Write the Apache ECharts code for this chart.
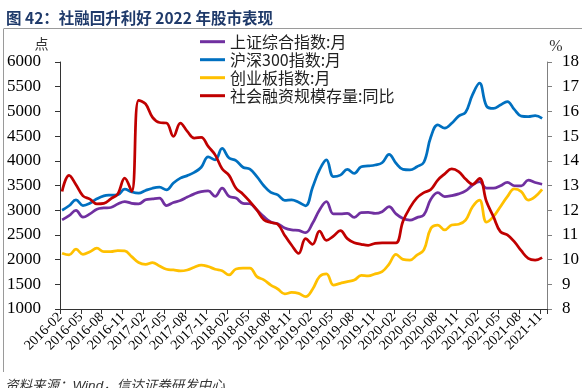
<!DOCTYPE html>
<html><head><meta charset="utf-8">
<script src="https://cdn.jsdelivr.net/npm/echarts@6/dist/echarts.min.js"></script>
<style>html,body{margin:0;padding:0;background:#fff;}#c{width:582px;height:388px;}</style>
</head><body><div id="c"></div>
<script>
// ---- data ----
const months = [
 '2016-02','2016-03','2016-04','2016-05','2016-06','2016-07','2016-08','2016-09','2016-10','2016-11','2016-12',
 '2017-01','2017-02','2017-03','2017-04','2017-05','2017-06','2017-07','2017-08','2017-09','2017-10','2017-11','2017-12',
 '2018-01','2018-02','2018-03','2018-04','2018-05','2018-06','2018-07','2018-08','2018-09','2018-10','2018-11','2018-12',
 '2019-01','2019-02','2019-03','2019-04','2019-05','2019-06','2019-07','2019-08','2019-09','2019-10','2019-11','2019-12',
 '2020-01','2020-02','2020-03','2020-04','2020-05','2020-06','2020-07','2020-08','2020-09','2020-10','2020-11','2020-12',
 '2021-01','2021-02','2021-03','2021-04','2021-05','2021-06','2021-07','2021-08','2021-09','2021-10','2021-11'
];
const seriesNames = ['上证综合指数:月','沪深300指数:月','创业板指数:月','社会融资规模存量:同比'];
const shComposite = [2805,2890,2995,2860,2925,3020,3045,3055,3125,3175,3140,3130,3210,3230,3245,3095,3155,3195,3265,3330,3375,3390,3280,3445,3280,3245,3140,3130,3005,2870,2760,2725,2640,2600,2590,2545,2735,3005,3175,2925,2925,2935,2855,2950,2955,2935,2970,3070,2925,2830,2800,2850,2905,3220,3355,3275,3295,3330,3390,3510,3580,3445,3445,3495,3565,3495,3490,3610,3560,3525];
const csi300 = [3000,3090,3210,3095,3140,3230,3290,3305,3310,3425,3370,3345,3400,3445,3465,3410,3550,3650,3700,3765,3870,4080,4020,4250,4055,4005,3870,3830,3680,3495,3360,3310,3200,3210,3160,3090,3460,3815,4020,3680,3710,3825,3745,3880,3895,3915,3960,4130,3950,3825,3815,3880,3970,4480,4725,4660,4760,4905,4985,5340,5570,5110,5060,5130,5200,5040,4905,4895,4915,4860];
const chinext = [2130,2095,2210,2105,2160,2230,2160,2160,2180,2175,2060,1940,1905,1940,1870,1805,1790,1770,1790,1845,1890,1860,1805,1775,1690,1810,1825,1825,1655,1590,1485,1405,1305,1335,1315,1250,1400,1655,1710,1485,1520,1555,1585,1680,1670,1710,1755,1910,2105,2005,1990,2090,2195,2630,2700,2600,2700,2715,2800,3070,3205,2760,2870,3070,3275,3430,3375,3205,3275,3420];
const tsfYoY = [12.76,13.41,13.03,12.58,12.45,12.26,12.28,12.46,12.66,13.30,12.76,16.45,16.30,15.76,15.55,15.53,14.99,15.53,15.19,14.92,14.95,14.58,14.24,13.68,13.41,12.89,12.65,12.35,12.01,11.61,11.50,11.43,10.98,10.58,10.25,10.85,10.62,11.15,10.78,10.95,11.17,10.85,10.68,10.62,10.58,10.66,10.68,10.68,10.68,11.55,12.10,12.50,12.71,12.84,13.22,13.47,13.67,13.56,13.26,13.05,13.29,12.35,11.74,11.13,11.00,10.73,10.36,10.05,9.98,10.08];
const leftTicks = {min:1000, max:6000, step:500};
const rightTicks = {min:8, max:18, step:1};

// ---- chart ----
const MONTH_POS = 0.3; // monthly values sit slightly into their month
const pts = arr => arr.map((v,i)=>[i+MONTH_POS, v]);
const colors = ['#7030A0','#0070C0','#FFC000','#C00000'];
const serif = 'Liberation Serif, DejaVu Serif, serif';
const cjk = 'Noto Sans CJK SC, sans-serif';

const chart = echarts.init(document.getElementById('c'), null, {renderer:'canvas'});
chart.setOption({
  animation:false,
  backgroundColor:'#fff',
  color: colors,
  grid:{left:60, right:33.5, top:62, bottom:79, containLabel:false},
  legend:{
    orient:'vertical', left:195, top:27.7, itemWidth:25, itemHeight:3, itemGap:0,
    icon:'rect',
    textStyle:{fontFamily:cjk, fontSize:16, lineHeight:18, color:'#222'},
    data: seriesNames
  },
  xAxis:{
    type:'value', min:0, max:months.length, interval:3,
    axisLine:{show:true, lineStyle:{color:'#333', width:1}},
    axisTick:{show:true, inside:false, length:5, lineStyle:{color:'#333'}},
    splitLine:{show:false},
    axisLabel:{rotate:45, margin:6, fontFamily:serif, fontSize:14, color:'#000',
      formatter: v => (v % 3 === 0 && months[v]) ? months[v] : ''}
  },
  yAxis:[
    {type:'value', min:leftTicks.min, max:leftTicks.max, interval:leftTicks.step, position:'left',
     axisLine:{show:true, lineStyle:{color:'#333'}},
     axisTick:{show:true, inside:false, length:5, lineStyle:{color:'#333'}},
     splitLine:{show:false},
     axisLabel:{margin:19, fontFamily:serif, fontSize:17, color:'#000', formatter: v => String(v)}},
    {type:'value', min:rightTicks.min, max:rightTicks.max, interval:rightTicks.step, position:'right',
     axisLine:{show:true, lineStyle:{color:'#808080'}},
     axisTick:{show:true, inside:false, length:5, lineStyle:{color:'#808080'}},
     splitLine:{show:false},
     axisLabel:{margin:15, fontFamily:serif, fontSize:17, color:'#000', formatter: v => String(v)}}
  ],
  series:[
    {name:seriesNames[0], type:'line', data:pts(shComposite), yAxisIndex:0, smooth:0.4, showSymbol:false, lineStyle:{width:2.75}},
    {name:seriesNames[1], type:'line', data:pts(csi300), yAxisIndex:0, smooth:0.4, showSymbol:false, lineStyle:{width:2.75}},
    {name:seriesNames[2], type:'line', data:pts(chinext), yAxisIndex:0, smooth:0.4, showSymbol:false, lineStyle:{width:2.75}},
    {name:seriesNames[3], type:'line', data:pts(tsfYoY), yAxisIndex:1, smooth:0.4, showSymbol:false, lineStyle:{width:2.75}}
  ],
  graphic:[
    {type:'text', x:6, y:18.5, style:{text:'图 42：社融回升利好 2022 年股市表现', fontSize:15.5, fontWeight:'bold', fontFamily:cjk, fill:'#1f3a6a', verticalAlign:'middle'}},
    {type:'line', shape:{x1:4, y1:28.5, x2:582, y2:28.5}, style:{stroke:'#9a9a9a', lineWidth:1}},
    {type:'line', shape:{x1:3.5, y1:28.5, x2:3.5, y2:372}, style:{stroke:'#9a9a9a', lineWidth:1}},
    {type:'text', x:41.5, y:44, style:{text:'点', fontSize:14, fontFamily:cjk, fill:'#333', align:'center', verticalAlign:'middle'}},
    {type:'text', x:556, y:47, style:{text:'%', fontSize:16, fontFamily:serif, fill:'#333', align:'center', verticalAlign:'middle'}},
    {type:'text', x:5, y:379, style:{text:'资料来源：Wind，信达证券研发中心', fontSize:13.5, fontStyle:'italic', fontFamily:'Liberation Sans, Noto Sans CJK SC, sans-serif', fill:'#333', verticalAlign:'top'}}
  ]
});
</script></body></html>
